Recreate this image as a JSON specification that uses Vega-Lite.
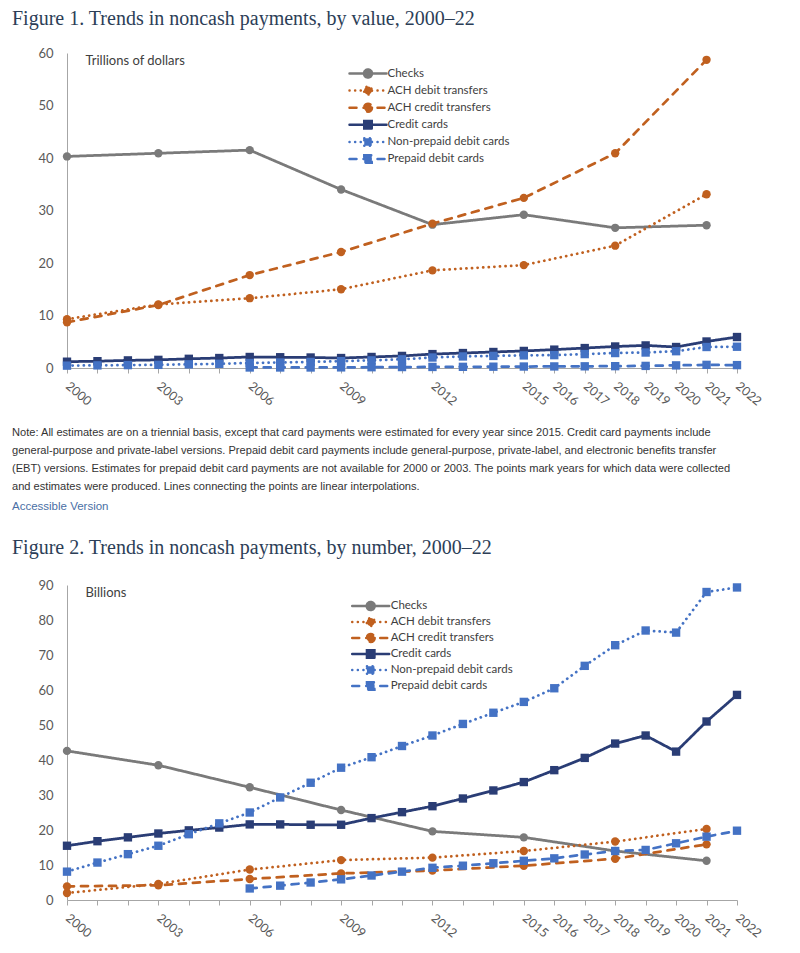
{
  "$schema": "https://vega.github.io/schema/vega-lite/v6.json",
  "background": "white",
  "padding": {"left": 12, "top": 9, "right": 5, "bottom": 5},
  "autosize": {"type": "pad"},
  "title": {"text": "Figure 1. Trends in noncash payments, by value, 2000–22", "anchor": "start", "frame": "group", "dx": -55, "offset": 18, "font": "Liberation Serif", "fontSize": 20, "fontWeight": "normal", "color": "#2c3e57"},
  "datasets": {
    "value": [
      {"s":"Checks","year":2000,"v":40.3},{"s":"Checks","year":2003,"v":40.9},{"s":"Checks","year":2006,"v":41.5},{"s":"Checks","year":2009,"v":34.0},{"s":"Checks","year":2012,"v":27.3},{"s":"Checks","year":2015,"v":29.2},{"s":"Checks","year":2018,"v":26.7},{"s":"Checks","year":2021,"v":27.2},
      {"s":"ACH debit transfers","year":2000,"v":9.3},{"s":"ACH debit transfers","year":2003,"v":12.1},{"s":"ACH debit transfers","year":2006,"v":13.3},{"s":"ACH debit transfers","year":2009,"v":15.0},{"s":"ACH debit transfers","year":2012,"v":18.6},{"s":"ACH debit transfers","year":2015,"v":19.6},{"s":"ACH debit transfers","year":2018,"v":23.3},{"s":"ACH debit transfers","year":2021,"v":33.1},
      {"s":"ACH credit transfers","year":2000,"v":8.7},{"s":"ACH credit transfers","year":2003,"v":12.0},{"s":"ACH credit transfers","year":2006,"v":17.7},{"s":"ACH credit transfers","year":2009,"v":22.1},{"s":"ACH credit transfers","year":2012,"v":27.5},{"s":"ACH credit transfers","year":2015,"v":32.4},{"s":"ACH credit transfers","year":2018,"v":40.9},{"s":"ACH credit transfers","year":2021,"v":58.7},
      {"s":"Credit cards","year":2000,"v":1.2},{"s":"Credit cards","year":2001,"v":1.3},{"s":"Credit cards","year":2002,"v":1.45},{"s":"Credit cards","year":2003,"v":1.55},{"s":"Credit cards","year":2004,"v":1.75},{"s":"Credit cards","year":2005,"v":1.9},{"s":"Credit cards","year":2006,"v":2.1},{"s":"Credit cards","year":2007,"v":2.05},{"s":"Credit cards","year":2008,"v":2.0},{"s":"Credit cards","year":2009,"v":1.9},{"s":"Credit cards","year":2010,"v":2.1},{"s":"Credit cards","year":2011,"v":2.3},{"s":"Credit cards","year":2012,"v":2.65},{"s":"Credit cards","year":2013,"v":2.85},{"s":"Credit cards","year":2014,"v":3.05},{"s":"Credit cards","year":2015,"v":3.25},{"s":"Credit cards","year":2016,"v":3.5},{"s":"Credit cards","year":2017,"v":3.8},{"s":"Credit cards","year":2018,"v":4.1},{"s":"Credit cards","year":2019,"v":4.3},{"s":"Credit cards","year":2020,"v":4.0},{"s":"Credit cards","year":2021,"v":5.05},{"s":"Credit cards","year":2022,"v":5.9},
      {"s":"Non-prepaid debit cards","year":2000,"v":0.45},{"s":"Non-prepaid debit cards","year":2001,"v":0.5},{"s":"Non-prepaid debit cards","year":2002,"v":0.55},{"s":"Non-prepaid debit cards","year":2003,"v":0.6},{"s":"Non-prepaid debit cards","year":2004,"v":0.7},{"s":"Non-prepaid debit cards","year":2005,"v":0.8},{"s":"Non-prepaid debit cards","year":2006,"v":0.95},{"s":"Non-prepaid debit cards","year":2007,"v":1.05},{"s":"Non-prepaid debit cards","year":2008,"v":1.15},{"s":"Non-prepaid debit cards","year":2009,"v":1.3},{"s":"Non-prepaid debit cards","year":2010,"v":1.45},{"s":"Non-prepaid debit cards","year":2011,"v":1.65},{"s":"Non-prepaid debit cards","year":2012,"v":2.0},{"s":"Non-prepaid debit cards","year":2013,"v":2.2},{"s":"Non-prepaid debit cards","year":2014,"v":2.3},{"s":"Non-prepaid debit cards","year":2015,"v":2.4},{"s":"Non-prepaid debit cards","year":2016,"v":2.45},{"s":"Non-prepaid debit cards","year":2017,"v":2.65},{"s":"Non-prepaid debit cards","year":2018,"v":2.85},{"s":"Non-prepaid debit cards","year":2019,"v":2.95},{"s":"Non-prepaid debit cards","year":2020,"v":3.2},{"s":"Non-prepaid debit cards","year":2021,"v":4.0},{"s":"Non-prepaid debit cards","year":2022,"v":4.05},
      {"s":"Prepaid debit cards","year":2006,"v":0.1},{"s":"Prepaid debit cards","year":2007,"v":0.1},{"s":"Prepaid debit cards","year":2008,"v":0.1},{"s":"Prepaid debit cards","year":2009,"v":0.12},{"s":"Prepaid debit cards","year":2010,"v":0.15},{"s":"Prepaid debit cards","year":2011,"v":0.18},{"s":"Prepaid debit cards","year":2012,"v":0.2},{"s":"Prepaid debit cards","year":2013,"v":0.22},{"s":"Prepaid debit cards","year":2014,"v":0.25},{"s":"Prepaid debit cards","year":2015,"v":0.28},{"s":"Prepaid debit cards","year":2016,"v":0.3},{"s":"Prepaid debit cards","year":2017,"v":0.32},{"s":"Prepaid debit cards","year":2018,"v":0.35},{"s":"Prepaid debit cards","year":2019,"v":0.4},{"s":"Prepaid debit cards","year":2020,"v":0.5},{"s":"Prepaid debit cards","year":2021,"v":0.6},{"s":"Prepaid debit cards","year":2022,"v":0.55}
    ],
    "number": [
      {"s":"Checks","year":2000,"v":42.6},{"s":"Checks","year":2003,"v":38.5},{"s":"Checks","year":2006,"v":32.2},{"s":"Checks","year":2009,"v":25.7},{"s":"Checks","year":2012,"v":19.6},{"s":"Checks","year":2015,"v":17.9},{"s":"Checks","year":2018,"v":14.0},{"s":"Checks","year":2021,"v":11.2},
      {"s":"ACH debit transfers","year":2000,"v":2.0},{"s":"ACH debit transfers","year":2003,"v":4.6},{"s":"ACH debit transfers","year":2006,"v":8.7},{"s":"ACH debit transfers","year":2009,"v":11.4},{"s":"ACH debit transfers","year":2012,"v":12.1},{"s":"ACH debit transfers","year":2015,"v":14.0},{"s":"ACH debit transfers","year":2018,"v":16.7},{"s":"ACH debit transfers","year":2021,"v":20.3},
      {"s":"ACH credit transfers","year":2000,"v":3.9},{"s":"ACH credit transfers","year":2003,"v":4.2},{"s":"ACH credit transfers","year":2006,"v":6.0},{"s":"ACH credit transfers","year":2009,"v":7.6},{"s":"ACH credit transfers","year":2012,"v":8.4},{"s":"ACH credit transfers","year":2015,"v":9.8},{"s":"ACH credit transfers","year":2018,"v":11.8},{"s":"ACH credit transfers","year":2021,"v":15.9},
      {"s":"Credit cards","year":2000,"v":15.5},{"s":"Credit cards","year":2001,"v":16.8},{"s":"Credit cards","year":2002,"v":17.9},{"s":"Credit cards","year":2003,"v":19.0},{"s":"Credit cards","year":2004,"v":19.9},{"s":"Credit cards","year":2005,"v":20.7},{"s":"Credit cards","year":2006,"v":21.6},{"s":"Credit cards","year":2007,"v":21.6},{"s":"Credit cards","year":2008,"v":21.5},{"s":"Credit cards","year":2009,"v":21.5},{"s":"Credit cards","year":2010,"v":23.4},{"s":"Credit cards","year":2011,"v":25.1},{"s":"Credit cards","year":2012,"v":26.8},{"s":"Credit cards","year":2013,"v":29.0},{"s":"Credit cards","year":2014,"v":31.3},{"s":"Credit cards","year":2015,"v":33.7},{"s":"Credit cards","year":2016,"v":37.1},{"s":"Credit cards","year":2017,"v":40.6},{"s":"Credit cards","year":2018,"v":44.7},{"s":"Credit cards","year":2019,"v":47.0},{"s":"Credit cards","year":2020,"v":42.4},{"s":"Credit cards","year":2021,"v":51.0},{"s":"Credit cards","year":2022,"v":58.6},
      {"s":"Non-prepaid debit cards","year":2000,"v":8.1},{"s":"Non-prepaid debit cards","year":2001,"v":10.7},{"s":"Non-prepaid debit cards","year":2002,"v":13.1},{"s":"Non-prepaid debit cards","year":2003,"v":15.5},{"s":"Non-prepaid debit cards","year":2004,"v":18.8},{"s":"Non-prepaid debit cards","year":2005,"v":21.9},{"s":"Non-prepaid debit cards","year":2006,"v":25.0},{"s":"Non-prepaid debit cards","year":2007,"v":29.3},{"s":"Non-prepaid debit cards","year":2008,"v":33.5},{"s":"Non-prepaid debit cards","year":2009,"v":37.8},{"s":"Non-prepaid debit cards","year":2010,"v":40.8},{"s":"Non-prepaid debit cards","year":2011,"v":44.0},{"s":"Non-prepaid debit cards","year":2012,"v":47.0},{"s":"Non-prepaid debit cards","year":2013,"v":50.3},{"s":"Non-prepaid debit cards","year":2014,"v":53.5},{"s":"Non-prepaid debit cards","year":2015,"v":56.6},{"s":"Non-prepaid debit cards","year":2016,"v":60.5},{"s":"Non-prepaid debit cards","year":2017,"v":66.9},{"s":"Non-prepaid debit cards","year":2018,"v":72.8},{"s":"Non-prepaid debit cards","year":2019,"v":77.0},{"s":"Non-prepaid debit cards","year":2020,"v":76.4},{"s":"Non-prepaid debit cards","year":2021,"v":88.0},{"s":"Non-prepaid debit cards","year":2022,"v":89.3},
      {"s":"Prepaid debit cards","year":2006,"v":3.3},{"s":"Prepaid debit cards","year":2007,"v":4.1},{"s":"Prepaid debit cards","year":2008,"v":5.0},{"s":"Prepaid debit cards","year":2009,"v":5.9},{"s":"Prepaid debit cards","year":2010,"v":7.0},{"s":"Prepaid debit cards","year":2011,"v":8.1},{"s":"Prepaid debit cards","year":2012,"v":9.2},{"s":"Prepaid debit cards","year":2013,"v":9.8},{"s":"Prepaid debit cards","year":2014,"v":10.5},{"s":"Prepaid debit cards","year":2015,"v":11.2},{"s":"Prepaid debit cards","year":2016,"v":11.9},{"s":"Prepaid debit cards","year":2017,"v":13.0},{"s":"Prepaid debit cards","year":2018,"v":14.0},{"s":"Prepaid debit cards","year":2019,"v":14.3},{"s":"Prepaid debit cards","year":2020,"v":16.2},{"s":"Prepaid debit cards","year":2021,"v":18.1},{"s":"Prepaid debit cards","year":2022,"v":19.8}
    ]
  },
  "spacing": 217,
  "bounds": "flush",
  "resolve": {
    "scale": {"x": "independent", "y": "independent", "color": "independent", "strokeDash": "independent"},
    "legend": {"color": "independent"}
  },
  "vconcat": [
    {
      "width": 670,
      "height": 315,
      "data": {"name": "value"},
      "title": {
        "text": [
          "Note: All estimates are on a triennial basis, except that card payments were estimated for every year since 2015. Credit card payments include",
          "general-purpose and private-label versions. Prepaid debit card payments include general-purpose, private-label, and electronic benefits transfer",
          "(EBT) versions. Estimates for prepaid debit card payments are not available for 2000 or 2003. The points mark years for which data were collected",
          "and estimates were produced. Lines connecting the points are linear interpolations."
        ],
        "orient": "bottom", "anchor": "start", "frame": "group", "dx": -55, "offset": 19,
        "font": "Liberation Sans", "fontSize": 11.1, "fontWeight": "normal", "color": "#333333", "lineHeight": 18,
        "subtitle": "Accessible Version", "subtitleFont": "Liberation Sans", "subtitleFontSize": 11.5, "subtitleColor": "#4a6fa5", "subtitlePadding": 9
      },
      "encoding": {
        "x": {"field": "year", "type": "quantitative", "scale": {"domain": [2000, 2022], "nice": false, "zero": false},
          "axis": {"values": [2000,2001,2002,2003,2004,2005,2006,2007,2008,2009,2010,2011,2012,2013,2014,2015,2016,2017,2018,2019,2020,2021,2022],
            "labelExpr": "(datum.value >= 2015 || (datum.value - 2000) % 3 == 0) ? '' + datum.value : ''",
            "labelAngle": 40, "labelAlign": "left", "labelBaseline": "middle", "labelPadding": 11, "tickSize": 5, "title": null,
            "labelOverlap": false, "labelFlush": false, "labelBound": false, "labelFontSize": 12.5}},
        "y": {"field": "v", "type": "quantitative", "scale": {"domain": [0, 60], "nice": false},
          "axis": {"values": [0,10,20,30,40,50,60], "ticks": false, "labelPadding": 14, "labelFlush": false, "labelOverlap": false,
            "title": "Trillions of dollars", "titleAngle": 0, "titleX": 18, "titleY": 11, "titleAlign": "left", "titleBaseline": "alphabetic",
            "titleFont": "Lato", "titleFontSize": 13, "titleFontWeight": "normal", "titleColor": "#404040"}}
      },
      "layer": [
        {
          "mark": {"type": "line", "strokeWidth": 2.75, "strokeCap": "round", "strokeJoin": "round"},
          "encoding": {
            "color": {"field": "s", "type": "nominal",
              "scale": {"domain": ["Checks","ACH debit transfers","ACH credit transfers","Credit cards","Non-prepaid debit cards","Prepaid debit cards"],
                "range": ["#7a7a7a","#c0601f","#c0601f","#2a3d75","#4472c4","#4472c4"]},
              "legend": {"orient": "none", "legendX": 294.5, "legendY": 14, "title": null, "padding": 0,
                "labelFont": "Lato", "labelFontSize": 11.5, "labelColor": "#404040", "labelOffset": 13, "labelLimit": 0,
                "symbolSize": 100, "rowPadding": -1.9,
                "encode": {"symbols": {"update": {
                  "shape": {"signal": "indexof(['Checks','ACH debit transfers','ACH credit transfers'], datum.value) >= 0 ? 'M-3.7,0L3.7,0M0.8,0A0.8,0.8,0,1,1,-0.8,0A0.8,0.8,0,1,1,0.8,0Z' : 'M-3.7,0L3.7,0M-0.75,-0.75L0.75,-0.75L0.75,0.75L-0.75,0.75Z'"},
                  "fill": {"signal": "datum.value=='Checks' ? '#7a7a7a' : (datum.value=='Credit cards' ? '#2a3d75' : (indexof(['ACH debit transfers','ACH credit transfers'], datum.value) >= 0 ? '#c0601f' : '#4472c4'))"},
                  "strokeDash": {"signal": "indexof(['ACH debit transfers','Non-prepaid debit cards'], datum.value) >= 0 ? [0.1,5.5] : (indexof(['ACH credit transfers','Prepaid debit cards'], datum.value) >= 0 ? [7,6] : [1,0])"},
                  "strokeCap": {"value": "round"},
                  "strokeWidth": {"value": 2.5},
                  "opacity": {"value": 1}
                }}}}},
            "strokeDash": {"field": "s", "type": "nominal",
              "scale": {"domain": ["Checks","ACH debit transfers","ACH credit transfers","Credit cards","Non-prepaid debit cards","Prepaid debit cards"],
                "range": [[1,0],[0.1,5.5],[7,7],[1,0],[0.1,5.5],[7,7]]},
              "legend": null}
          }
        },
        {
          "mark": {"type": "point", "filled": true, "size": 70, "opacity": 1, "strokeWidth": 0},
          "encoding": {
            "fill": {"condition": [{"test": "datum.s == 'Checks'", "value": "#7a7a7a"}, {"test": "datum.s == 'Credit cards'", "value": "#2a3d75"}, {"test": "datum.s == 'ACH debit transfers' || datum.s == 'ACH credit transfers'", "value": "#c0601f"}], "value": "#4472c4"},
            "shape": {"condition": {"test": "datum.s == 'Checks' || datum.s == 'ACH debit transfers' || datum.s == 'ACH credit transfers'", "value": "circle"}, "value": "square"}
          }
        }
      ]
    },
    {
      "width": 670,
      "height": 315,
      "data": {"name": "number"},
      "title": {"text": "Figure 2. Trends in noncash payments, by number, 2000–22", "anchor": "start", "frame": "group", "dx": -55, "offset": 21, "font": "Liberation Serif", "fontSize": 20, "fontWeight": "normal", "color": "#2c3e57"},
      "encoding": {
        "x": {"field": "year", "type": "quantitative", "scale": {"domain": [2000, 2022], "nice": false, "zero": false},
          "axis": {"values": [2000,2001,2002,2003,2004,2005,2006,2007,2008,2009,2010,2011,2012,2013,2014,2015,2016,2017,2018,2019,2020,2021,2022],
            "labelExpr": "(datum.value >= 2015 || (datum.value - 2000) % 3 == 0) ? '' + datum.value : ''",
            "labelAngle": 40, "labelAlign": "left", "labelBaseline": "middle", "labelPadding": 11, "tickSize": 5, "title": null,
            "labelOverlap": false, "labelFlush": false, "labelBound": false, "labelFontSize": 12.5}},
        "y": {"field": "v", "type": "quantitative", "scale": {"domain": [0, 90], "nice": false},
          "axis": {"values": [0,10,20,30,40,50,60,70,80,90], "ticks": false, "labelPadding": 14, "labelFlush": false, "labelOverlap": false,
            "title": "Billions", "titleAngle": 0, "titleX": 18, "titleY": 11, "titleAlign": "left", "titleBaseline": "alphabetic",
            "titleFont": "Lato", "titleFontSize": 13, "titleFontWeight": "normal", "titleColor": "#404040"}}
      },
      "layer": [
        {
          "mark": {"type": "line", "strokeWidth": 2.75, "strokeCap": "round", "strokeJoin": "round"},
          "encoding": {
            "color": {"field": "s", "type": "nominal",
              "scale": {"domain": ["Checks","ACH debit transfers","ACH credit transfers","Credit cards","Non-prepaid debit cards","Prepaid debit cards"],
                "range": ["#7a7a7a","#c0601f","#c0601f","#2a3d75","#4472c4","#4472c4"]},
              "legend": {"orient": "none", "legendX": 297.2, "legendY": 14.5, "title": null, "padding": 0,
                "labelFont": "Lato", "labelFontSize": 11.5, "labelColor": "#404040", "labelOffset": 13.5, "labelLimit": 0,
                "symbolSize": 100, "rowPadding": -3.2,
                "encode": {"symbols": {"update": {
                  "shape": {"signal": "indexof(['Checks','ACH debit transfers','ACH credit transfers'], datum.value) >= 0 ? 'M-3.7,0L3.7,0M0.8,0A0.8,0.8,0,1,1,-0.8,0A0.8,0.8,0,1,1,0.8,0Z' : 'M-3.7,0L3.7,0M-0.75,-0.75L0.75,-0.75L0.75,0.75L-0.75,0.75Z'"},
                  "fill": {"signal": "datum.value=='Checks' ? '#7a7a7a' : (datum.value=='Credit cards' ? '#2a3d75' : (indexof(['ACH debit transfers','ACH credit transfers'], datum.value) >= 0 ? '#c0601f' : '#4472c4'))"},
                  "strokeDash": {"signal": "indexof(['ACH debit transfers','Non-prepaid debit cards'], datum.value) >= 0 ? [0.1,5.5] : (indexof(['ACH credit transfers','Prepaid debit cards'], datum.value) >= 0 ? [7,6] : [1,0])"},
                  "strokeCap": {"value": "round"},
                  "strokeWidth": {"value": 2.5},
                  "opacity": {"value": 1}
                }}}}},
            "strokeDash": {"field": "s", "type": "nominal",
              "scale": {"domain": ["Checks","ACH debit transfers","ACH credit transfers","Credit cards","Non-prepaid debit cards","Prepaid debit cards"],
                "range": [[1,0],[0.1,5.5],[7,7],[1,0],[0.1,5.5],[7,7]]},
              "legend": null}
          }
        },
        {
          "mark": {"type": "point", "filled": true, "size": 70, "opacity": 1, "strokeWidth": 0},
          "encoding": {
            "fill": {"condition": [{"test": "datum.s == 'Checks'", "value": "#7a7a7a"}, {"test": "datum.s == 'Credit cards'", "value": "#2a3d75"}, {"test": "datum.s == 'ACH debit transfers' || datum.s == 'ACH credit transfers'", "value": "#c0601f"}], "value": "#4472c4"},
            "shape": {"condition": {"test": "datum.s == 'Checks' || datum.s == 'ACH debit transfers' || datum.s == 'ACH credit transfers'", "value": "circle"}, "value": "square"}
          }
        }
      ]
    }
  ],
  "config": {
    "view": {"stroke": null},
    "axis": {"labelFont": "Lato", "labelFontSize": 13, "labelColor": "#595959", "domainColor": "#a6a6a6", "tickColor": "#a6a6a6", "grid": false, "domainWidth": 1, "labelOverlap": false}
  }
}
